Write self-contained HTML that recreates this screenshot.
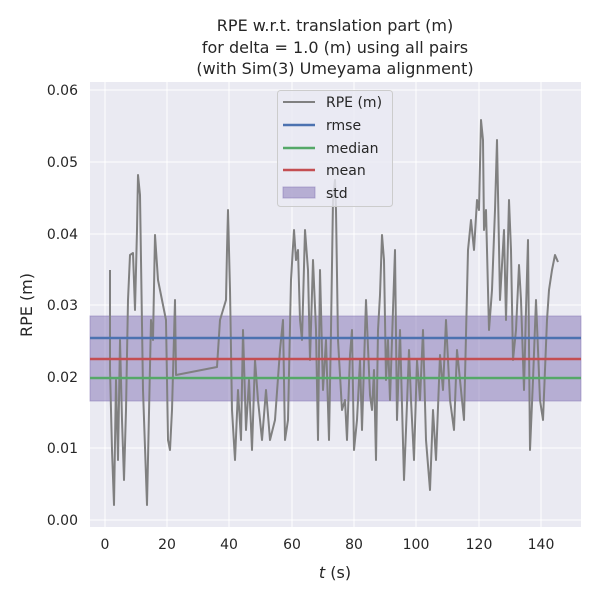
<!DOCTYPE html>
<html><head><style>body{margin:0;background:#fff}</style></head><body>
<svg width="600" height="600" xmlns="http://www.w3.org/2000/svg" font-family="DejaVu Sans, Liberation Sans, sans-serif" fill="#262626">
<rect x="90" y="82" width="491" height="445" fill="#eaeaf2"/>
<g stroke="#fff" stroke-width="1">
<line x1="105" y1="82" x2="105" y2="527"/><line x1="167" y1="82" x2="167" y2="527"/><line x1="229" y1="82" x2="229" y2="527"/><line x1="292" y1="82" x2="292" y2="527"/><line x1="354" y1="82" x2="354" y2="527"/><line x1="416" y1="82" x2="416" y2="527"/><line x1="479" y1="82" x2="479" y2="527"/><line x1="541" y1="82" x2="541" y2="527"/>
<line x1="90" y1="520" x2="581" y2="520"/><line x1="90" y1="448" x2="581" y2="448"/><line x1="90" y1="377" x2="581" y2="377"/><line x1="90" y1="305" x2="581" y2="305"/><line x1="90" y1="234" x2="581" y2="234"/><line x1="90" y1="162" x2="581" y2="162"/><line x1="90" y1="90" x2="581" y2="90"/>
</g>
<rect x="90" y="316" width="491" height="85" fill="#8172b3" fill-opacity="0.5" stroke="#8172b3" stroke-opacity="0.5"/>
<polyline fill="none" stroke="#808080" stroke-width="2" stroke-linejoin="round" points="110,270 110,370 112,450 114,505 116,380 118,460 120,340 122,420 124,480 126,410 128,300 130,255 133,253 135,310 137,230 138,175 140,195 143,390 147,505 151,320 153,340 155,235 158,280 162,300 166,320 168,440 170,450 172,410 175,300 176,375 217,367 220,320 226,300 227,250 228,210 230,290 232,410 235,460 238,390 241,440 243,330 246,430 249,380 252,450 255,360 258,400 262,440 266,390 270,440 275,420 280,350 283,320 285,440 288,420 291,280 294,230 296,260 298,250 300,320 302,340 305,230 308,270 310,360 313,260 316,330 318,440 320,270 323,390 326,340 329,440 331,330 333,200 335,180 336,210 338,340 342,410 345,400 347,440 350,355 352,330 354,450 357,420 360,360 362,430 366,300 370,395 372,410 374,370 376,460 378,330 380,295 382,235 384,260 386,380 388,340 390,400 393,310 395,250 397,420 400,330 404,480 406,430 409,350 411,400 414,460 417,360 420,400 423,330 426,440 430,490 433,410 436,460 440,355 443,390 446,320 450,400 454,430 457,350 460,380 464,420 468,250 471,220 474,250 477,200 479,210 481,120 483,140 484,230 486,210 489,330 492,290 495,210 497,140 500,300 504,230 506,320 509,200 511,250 513,360 516,330 519,265 521,300 524,390 526,310 528,240 530,450 533,380 536,300 540,400 543,420 547,320 549,290 552,270 555,255 558,262"/>
<line x1="90" y1="338" x2="581" y2="338" stroke="#4c72b0" stroke-width="2.5"/>
<line x1="90" y1="359" x2="581" y2="359" stroke="#c44e52" stroke-width="2.5"/>
<line x1="90" y1="378" x2="581" y2="378" stroke="#55a868" stroke-width="2.5"/>
<rect x="277.5" y="90.5" width="115" height="116" rx="3" fill="#eaeaf2" fill-opacity="0.8" stroke="#cccccc"/>
<g stroke-width="2.5"><line x1="283" y1="102" x2="315" y2="102" stroke="#808080" stroke-width="2"/><line x1="283" y1="125" x2="315" y2="125" stroke="#4c72b0"/><line x1="283" y1="148" x2="315" y2="148" stroke="#55a868"/><line x1="283" y1="170" x2="315" y2="170" stroke="#c44e52"/></g>
<rect x="283" y="187" width="32" height="11" fill="#8172b3" fill-opacity="0.5" stroke="#8172b3" stroke-opacity="0.5"/>
<g font-size="14"><text x="326" y="107">RPE (m)</text><text x="326" y="130">rmse</text><text x="326" y="153">median</text><text x="326" y="175">mean</text><text x="326" y="198">std</text></g>
<g font-size="14" text-anchor="end"><text x="78" y="525">0.00</text><text x="78" y="453">0.01</text><text x="78" y="382">0.02</text><text x="78" y="310">0.03</text><text x="78" y="239">0.04</text><text x="78" y="167">0.05</text><text x="78" y="95">0.06</text></g>
<g font-size="14" text-anchor="middle"><text x="105" y="549">0</text><text x="167" y="549">20</text><text x="229" y="549">40</text><text x="292" y="549">60</text><text x="354" y="549">80</text><text x="416" y="549">100</text><text x="479" y="549">120</text><text x="541" y="549">140</text></g>
<text x="335" y="578" font-size="16" text-anchor="middle"><tspan font-style="italic">t</tspan> (s)</text>
<text transform="translate(32,305) rotate(-90)" font-size="16" text-anchor="middle">RPE (m)</text>
<g font-size="16" text-anchor="middle"><text x="335" y="31">RPE w.r.t. translation part (m)</text><text x="335" y="53">for delta = 1.0 (m) using all pairs</text><text x="335" y="74">(with Sim(3) Umeyama alignment)</text></g>
</svg>
</body></html>
